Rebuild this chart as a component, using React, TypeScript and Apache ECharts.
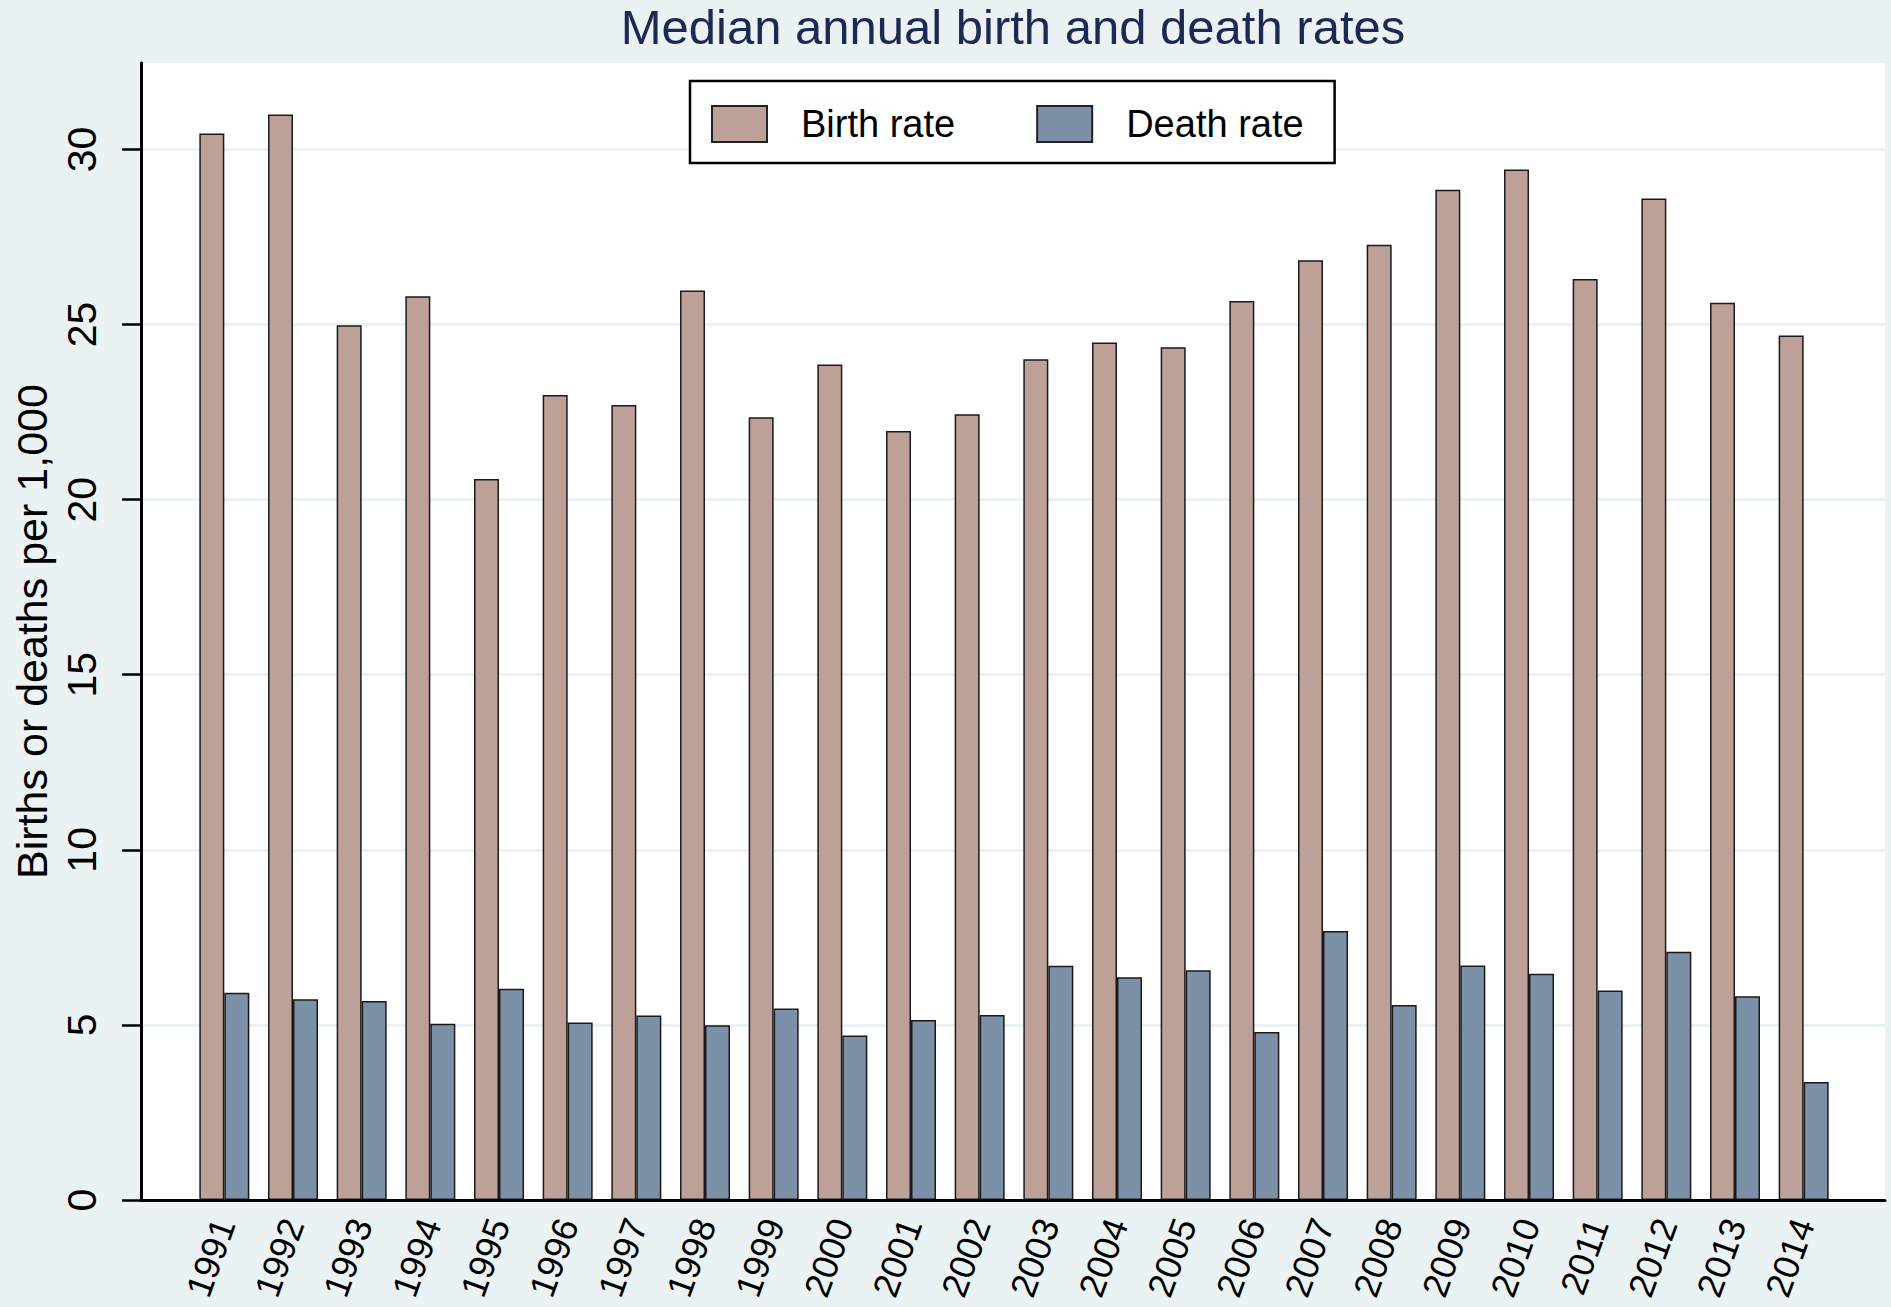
import React, { useEffect, useRef } from "react";
import * as echarts from "echarts";

const years = [
  "1991", "1992", "1993", "1994", "1995", "1996", "1997", "1998", "1999", "2000", "2001", "2002",
  "2003", "2004", "2005", "2006", "2007", "2008", "2009", "2010", "2011", "2012", "2013", "2014",
];
const birthRate = [
  30.46, 31.0, 24.98, 25.81, 20.59, 22.99, 22.7, 25.97, 22.35, 23.86, 21.96, 22.44,
  24.01, 24.49, 24.35, 25.67, 26.84, 27.28, 28.85, 29.43, 26.3, 28.6, 25.62, 24.69,
];
const deathRate = [
  5.92, 5.73, 5.68, 5.03, 6.03, 5.07, 5.27, 4.99, 5.47, 4.7, 5.14, 5.28,
  6.69, 6.36, 6.56, 4.8, 7.68, 5.57, 6.7, 6.46, 5.98, 7.09, 5.82, 3.37,
];
const yTicks = [0, 5, 10, 15, 20, 25, 30];
const titleText = "Median annual birth and death rates";
const yTitle = "Births or deaths per 1,000";
const seriesNames = ["Birth rate", "Death rate"];

const W = 1891;
const H = 1307;
const FONT = "'Liberation Sans', Arial, Helvetica, sans-serif";

export default function App() {
  const ref = useRef<HTMLDivElement>(null);

  useEffect(() => {
    if (!ref.current) return;
    const chart = echarts.init(ref.current, undefined, { renderer: "svg", width: W, height: H });
    const plotLeft = 141;
    const plotRight = 1885;
    const plotTop = 63;
    const plotBottom = 1200;
    const bandLeft = 190;
    const bandRight = 1838;
    const yMax = 32.47;

    const option: any = {
      animation: false,
      backgroundColor: "#EAF2F3",
      textStyle: { fontFamily: FONT },
      graphic: [
        {
          type: "text",
          x: 1013,
          y: 27,
          style: {
            text: titleText,
            fontSize: 49,
            fontFamily: FONT,
            fill: "#1c2952",
            align: "center",
            verticalAlign: "middle",
          },
        },
      ],
      grid: [
        {
          left: plotLeft,
          right: W - plotRight,
          top: plotTop,
          bottom: H - plotBottom,
          show: true,
          backgroundColor: "#ffffff",
          borderWidth: 0,
        },
        {
          left: bandLeft,
          right: W - bandRight,
          top: plotTop,
          bottom: H - plotBottom,
          show: false,
        },
      ],
      legend: {
        data: seriesNames,
        left: 690,
        top: 81,
        z: 10,
        orient: "horizontal",
        padding: [24, 31, 20, 21],
        itemGap: 81,
        itemWidth: 55,
        itemHeight: 36,
        backgroundColor: "#ffffff",
        borderColor: "#000000",
        borderWidth: 2.5,
        borderRadius: 0,
        icon: "rect",
        itemStyle: { borderColor: "#222222", borderWidth: 2 },
        textStyle: {
          fontSize: 38,
          color: "#000000",
          fontFamily: FONT,
          lineHeight: 36,
          padding: [0, 0, 0, 29],
        },
      },
      xAxis: [
        {
          gridIndex: 0,
          type: "value",
          min: 0,
          max: 1,
          z: 5,
          axisLine: { show: true, onZero: false, lineStyle: { color: "#000000", width: 3 } },
          axisTick: { show: false },
          axisLabel: { show: false },
          splitLine: { show: false },
        },
        {
          gridIndex: 1,
          type: "category",
          data: years,
          boundaryGap: true,
          axisLine: { show: false },
          axisTick: { show: false },
          splitLine: { show: false },
          axisLabel: {
            interval: 0,
            rotate: 70,
            margin: 20,
            fontSize: 36,
            color: "#000000",
            fontFamily: FONT,
          },
        },
      ],
      yAxis: [
        {
          gridIndex: 0,
          type: "value",
          min: 0,
          max: yMax,
          interval: 5,
          axisLine: { show: true, lineStyle: { color: "#000000", width: 3 } },
          axisTick: {
            show: true,
            length: 19,
            customValues: yTicks,
            lineStyle: { color: "#000000", width: 2.5 },
          },
          axisLabel: {
            rotate: 90,
            margin: 39,
            fontSize: 41,
            color: "#000000",
            fontFamily: FONT,
            customValues: yTicks,
          },
          splitLine: { show: true, lineStyle: { color: "#EAF2F3", width: 3 } },
          name: yTitle,
          nameLocation: "middle",
          nameGap: 85,
          nameTextStyle: { fontSize: 43, color: "#000000", fontFamily: FONT },
        },
        {
          gridIndex: 1,
          type: "value",
          min: 0,
          max: yMax,
          show: false,
          splitLine: { show: false },
        },
      ],
      series: [
        {
          type: "bar",
          name: seriesNames[0],
          xAxisIndex: 1,
          yAxisIndex: 1,
          z: 3,
          data: birthRate,
          barWidth: 25,
          barGap: "0%",
          itemStyle: { color: "#BDA098", borderColor: "#1a1a1a", borderWidth: 1.5 },
        },
        {
          type: "bar",
          name: seriesNames[1],
          xAxisIndex: 1,
          yAxisIndex: 1,
          z: 3,
          data: deathRate,
          barWidth: 25,
          barGap: "0%",
          itemStyle: { color: "#7C91A8", borderColor: "#1a1a1a", borderWidth: 1.5 },
        },
      ],
    };
    chart.setOption(option);
    return () => {
      chart.dispose();
    };
  }, []);

  return (
    <div
      ref={ref}
      style={{ position: "absolute", left: 0, top: 0, width: W, height: H }}
    />
  );
}
